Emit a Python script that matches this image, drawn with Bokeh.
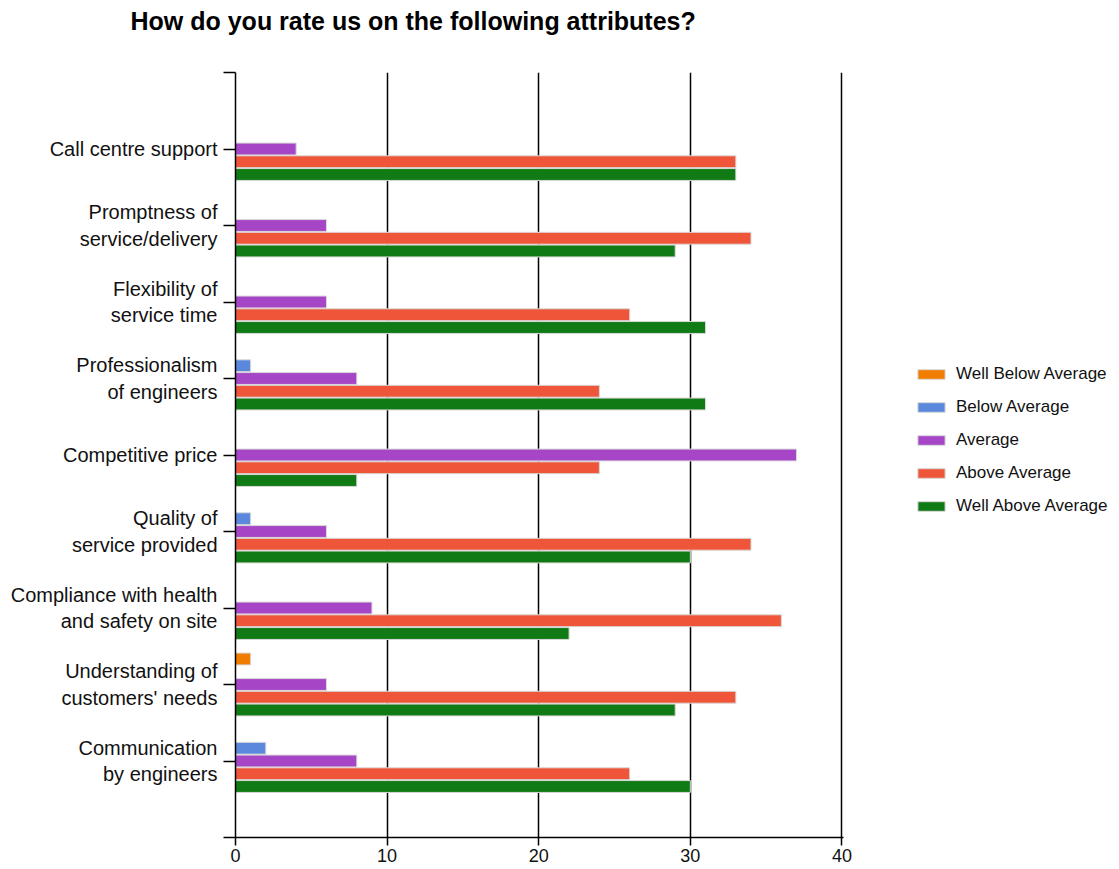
from bokeh.plotting import figure
from bokeh.models import Range1d, FixedTicker, Legend, LegendItem, Title
from bokeh.embed import file_html
from bokeh.resources import INLINE

categories = [
    "Call centre support",
    "Promptness of\nservice/delivery",
    "Flexibility of\nservice time",
    "Professionalism\nof engineers",
    "Competitive price",
    "Quality of\nservice provided",
    "Compliance with health\nand safety on site",
    "Understanding of\ncustomers' needs",
    "Communication\nby engineers",
]
series_names = ["Well Below Average", "Below Average", "Average", "Above Average", "Well Above Average"]
well_below = [0, 0, 0, 0, 0, 0, 0, 1, 0]
below = [0, 0, 0, 1, 0, 1, 0, 0, 2]
average = [4, 6, 6, 8, 37, 6, 9, 6, 8]
above = [33, 34, 26, 24, 24, 34, 36, 33, 26]
well_above = [33, 29, 31, 31, 8, 30, 22, 29, 30]
x_ticks = [0, 10, 20, 30, 40]
title_text = "How do you rate us on the following attributes?"

colors = ["#f07c00", "#5b87dc", "#a646c6", "#ef5538", "#107a14"]
series = [well_below, below, average, above, well_above]

FONT = "Liberation Sans"

p = figure(frame_width=608, frame_height=765,
           min_border_left=235, min_border_right=276, min_border_top=72, min_border_bottom=32,
           x_range=Range1d(0, 40.1), y_range=Range1d(len(categories) + 1, 0),
           output_backend="svg", toolbar_location=None)

p.outline_line_color = None
p.background_fill_color = "white"
p.border_fill_color = "white"

# spacer between frame and title (closest to the frame)
spacer = Title(text=" ", text_font_size="1px", standoff=34)
p.add_layout(spacer, "above")
main_title = Title(text=title_text, text_font=FONT, text_font_size="25px",
                   text_font_style="bold", text_color="#000000",
                   align="left", offset=-105, standoff=2)
p.add_layout(main_title, "above")

n = len(categories)
slot = 1.0 / 6.0
items = []
for k, (name, vals, col) in enumerate(zip(series_names, series, colors)):
    ys = [i + 1 + (k - 2) * slot for i in range(n)]
    r = p.hbar(y=ys, right=vals, left=0, height=slot * 0.93,
               fill_color=col, line_color="#d9d9d9", line_width=1)
    items.append(LegendItem(label=name, renderers=[r]))

# axes
p.xaxis.ticker = FixedTicker(ticks=x_ticks)
p.xaxis.axis_line_color = "#000000"
p.xaxis.axis_line_width = 1.5
p.xaxis.major_tick_line_color = "#000000"
p.xaxis.major_tick_line_width = 1.5
p.xaxis.major_tick_out = 8
p.xaxis.major_tick_in = 0
p.xaxis.minor_tick_line_color = None
p.xaxis.major_label_text_font = FONT
p.xaxis.major_label_text_font_size = "18px"
p.xaxis.major_label_text_color = "#111111"
p.xaxis.major_label_standoff = 3

p.yaxis.ticker = FixedTicker(ticks=list(range(0, n + 2)))
p.yaxis.major_label_overrides = {0: "", n + 1: "", **{i + 1: c for i, c in enumerate(categories)}}
p.yaxis.axis_line_color = "#000000"
p.yaxis.axis_line_width = 1.5
p.yaxis.major_tick_line_color = "#000000"
p.yaxis.major_tick_line_width = 1.5
p.yaxis.major_tick_out = 12
p.yaxis.major_tick_in = 0
p.yaxis.minor_tick_line_color = None
p.yaxis.major_label_text_font = FONT
p.yaxis.major_label_text_font_size = "20px"
p.yaxis.major_label_text_color = "#111111"
p.yaxis.major_label_standoff = 6

p.xgrid.ticker = FixedTicker(ticks=x_ticks[1:])
p.xgrid.grid_line_color = "#000000"
p.xgrid.grid_line_width = 1.5
p.xgrid.level = "underlay"
p.ygrid.grid_line_color = None

legend = Legend(items=items, location=(71, 321))
legend.label_text_font = FONT
legend.label_text_font_size = "17px"
legend.label_text_color = "#111111"
legend.glyph_width = 34
legend.glyph_height = 12
legend.label_height = 20
legend.spacing = 13
legend.padding = 0
legend.margin = 0
legend.label_standoff = 8
legend.border_line_color = None
legend.background_fill_alpha = 0
p.add_layout(legend, "right")

open("out.html", "w").write(file_html(p, INLINE))
